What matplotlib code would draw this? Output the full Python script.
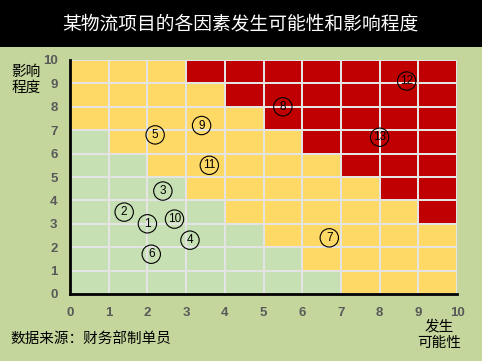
import numpy as np
import matplotlib
matplotlib.use("Agg")
import matplotlib.pyplot as plt
from matplotlib.colors import ListedColormap

# risk matrix cells, row 0 = impact 0-1 (bottom), codes: 0 green, 1 yellow, 2 red
grid_rows = [
    "0000000111",
    "0000001111",
    "0000011111",
    "0000111112",
    "0001111122",
    "0011111222",
    "0111112222",
    "1111122222",
    "1111222222",
    "1112222222",
]

# risk factors: (likelihood, impact)
labels = ["1", "2", "3", "4", "5", "6", "7", "8", "9", "10", "11", "12", "13"]
likelihood = [2.0, 1.4, 2.4, 3.1, 2.2, 2.1, 6.7, 5.5, 3.4, 2.7, 3.6, 8.7, 8.0]
impact = [3.0, 3.5, 4.4, 2.3, 6.8, 1.7, 2.4, 8.0, 7.2, 3.2, 5.5, 9.1, 6.7]

ticks = list(range(0, 11))

title = "某物流项目的各因素发生可能性和影响程度"
ylab = "影响\n程度"
xlab = "发生\n可能性"
source = "数据来源：财务部制单员"

#--------------------------------------------------
bg = "#c4d69c"
cjk = ["Noto Sans CJK SC", "DejaVu Sans"]

fig = plt.figure(figsize=(4.82, 3.61), dpi=100)
fig.patch.set_facecolor(bg)

# black title bar
fig.patches.append(plt.Rectangle((0, 1 - 47/361), 1, 47/361, transform=fig.transFigure,
                                 facecolor="black", edgecolor="none", zorder=0))
fig.text(0.498, 1 - 24/361, title, color="white", fontsize=13.5, family=cjk,
         ha="center", va="center")

ax = fig.add_axes([70/482, 1 - 294/361, 387/482, 234/361])

cells = np.array([[int(c) for c in r] for r in grid_rows])
cmap = ListedColormap(["#c6e0b4", "#ffd966", "#c00000"])
ax.pcolormesh(np.arange(11), np.arange(11), cells, cmap=cmap, vmin=-0.5, vmax=2.5,
              edgecolors="#e4e4e4", linewidth=1.3)

ax.scatter(likelihood, impact, s=175, facecolors="none", edgecolors="black",
           linewidths=0.8, zorder=3)
for x, y, t in zip(likelihood, impact, labels):
    ax.text(x, y, t, ha="center", va="center", fontsize=8.5,
            family="Liberation Sans", color="black", zorder=4)

ax.set_xlim(0, 10)
ax.set_ylim(0, 10)
ax.set_xticks(ticks)
ax.set_yticks(ticks)
for lab in ax.get_xticklabels() + ax.get_yticklabels():
    lab.set_fontweight("bold")
    lab.set_family(["Liberation Sans Narrow", "Liberation Sans"])
    lab.set_fontsize(9.5)
    lab.set_color("#595959")
ax.tick_params(axis="both", length=0)
ax.tick_params(axis="x", pad=9)
ax.tick_params(axis="y", pad=9)

for s in ["top", "right"]:
    ax.spines[s].set_visible(False)
for s in ["left", "bottom"]:
    ax.spines[s].set_linewidth(2)
    ax.spines[s].set_color("black")
    ax.spines[s].set_zorder(5)

fig.text(26/482, 1 - 80/361, ylab, fontsize=10.5, family=cjk, ha="center",
         va="center", linespacing=1.2)
fig.text(439/482, 1 - 335/361, xlab, fontsize=10.5, family=cjk, ha="center",
         va="center", linespacing=1.2)
fig.text(10/482, 1 - 339/361, source, fontsize=10.5, family=cjk, ha="left",
         va="center")

plt.savefig("out.png", dpi=100, facecolor=bg)
